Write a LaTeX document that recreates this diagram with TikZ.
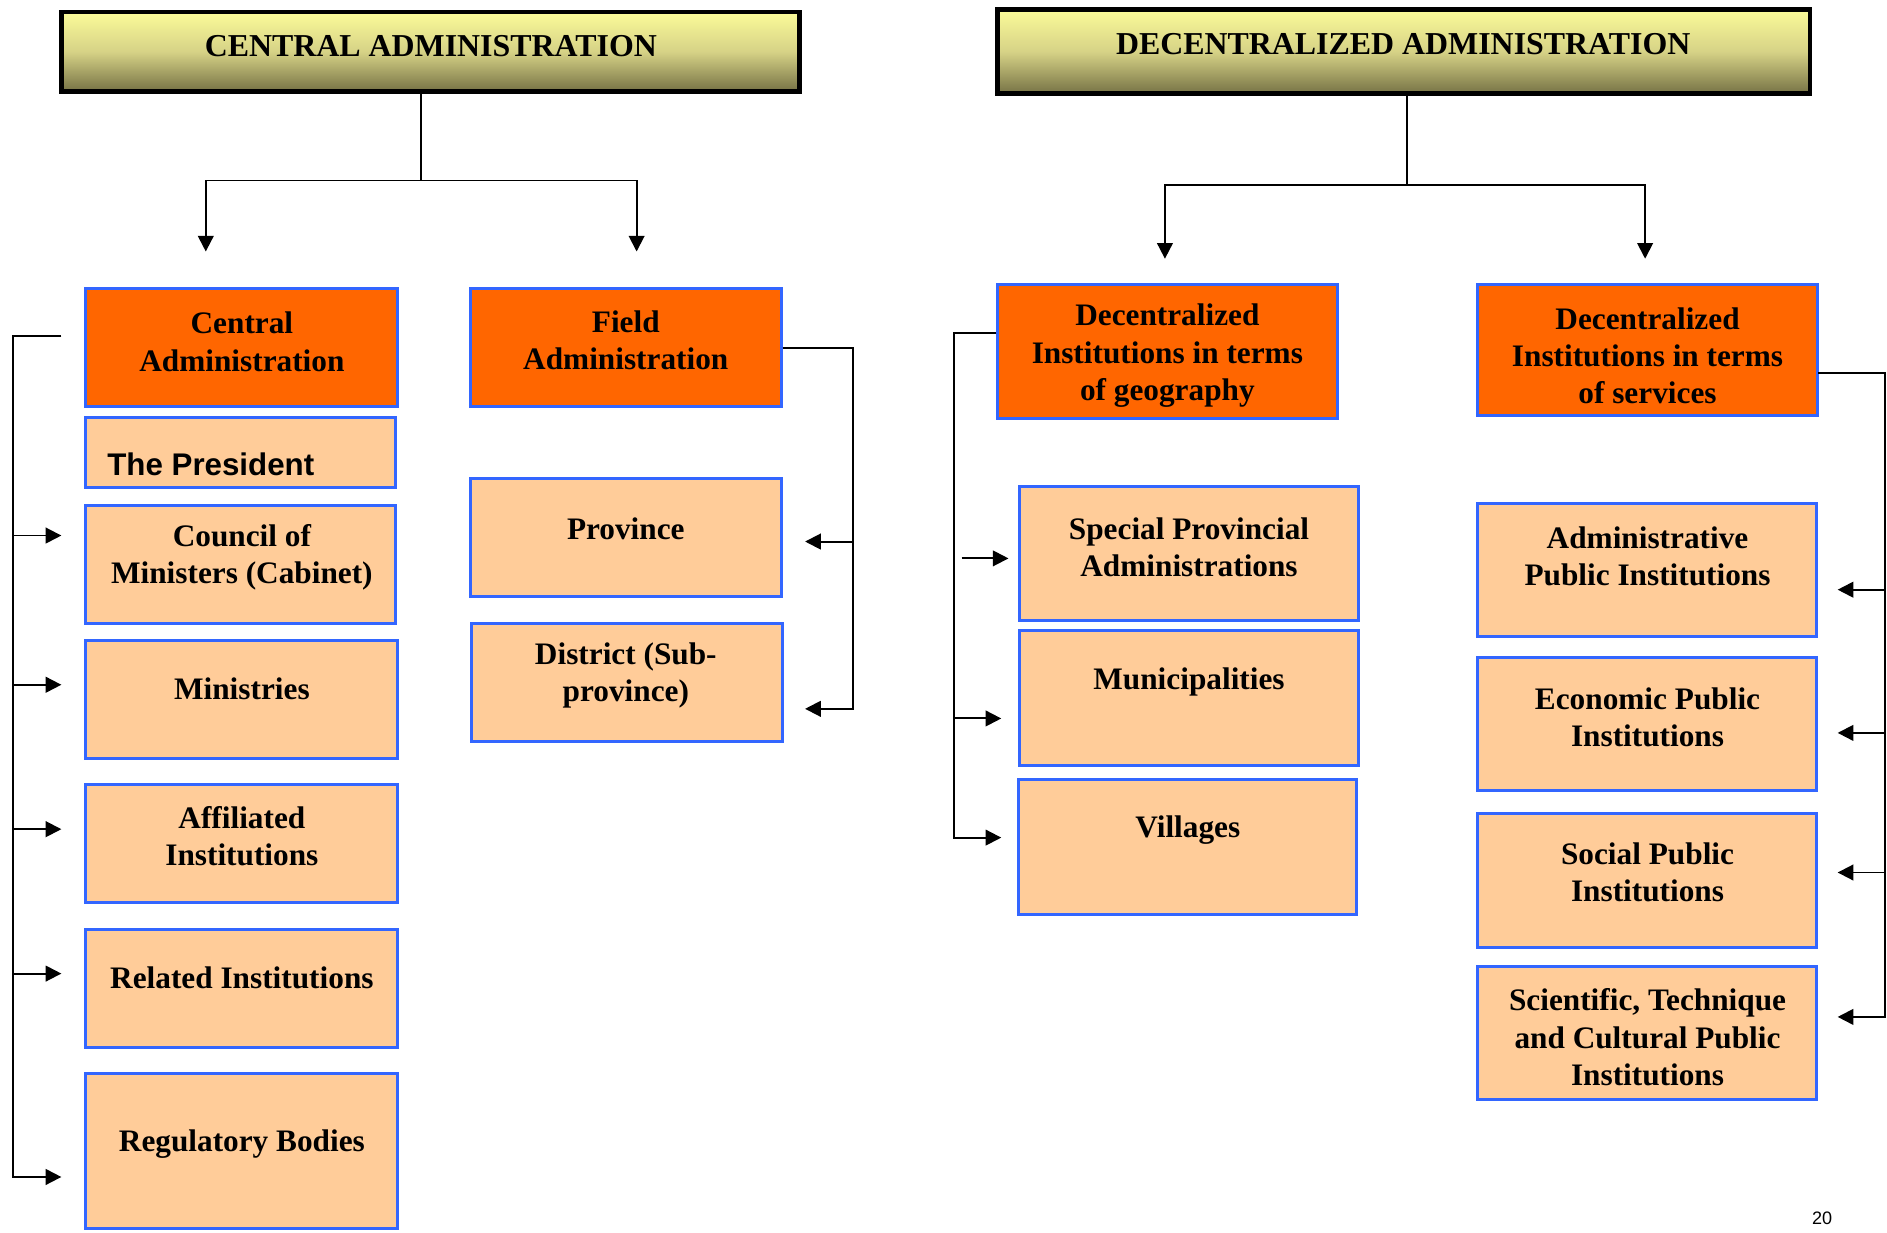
\documentclass[tikz,border=0pt]{standalone}
\usepackage{fontspec}
\setmainfont{Liberation Serif}
\newfontfamily\arialfont{Liberation Sans}
\usetikzlibrary{arrows.meta,fit}
\definecolor{orng}{HTML}{FF6600}
\definecolor{peach}{HTML}{FFCC99}
\definecolor{bordblue}{HTML}{3366FF}
\definecolor{hdtop}{HTML}{FBFB99}
\definecolor{hdmid}{HTML}{D6D286}
\definecolor{hdbot}{HTML}{767245}
\tikzset{
 hdr/.style={draw=black, line width=4pt, top color=hdtop, bottom color=hdbot, middle color=hdmid, inner sep=0pt},
 catbox/.style={draw=bordblue, line width=2.5pt, fill=orng, inner sep=0pt},
 subbox/.style={draw=bordblue, line width=2.5pt, fill=peach, inner sep=0pt},
 txt/.style={font=\fontsize{26}{31}\selectfont\bfseries, align=center, inner sep=0pt, yshift=-2.5pt},
 hdtxt/.style={font=\fontsize{26.5}{30}\selectfont\bfseries, inner sep=0pt, yshift=-1.5pt},
 conn/.style={line width=1.6pt, draw=black},
 arr/.style={conn, -{Triangle[length=13pt,width=13pt]}},
}
\newcommand\mybox[6]{\node[#2, fit={(#3,#4) (#5,#6)}] (#1) {};}
\begin{document}
\begin{tikzpicture}[x=1pt,y=-1pt]
\path[use as bounding box, fill=white] (0,0) rectangle (1568,1024);

% headers
\mybox{ch}{hdr}{51}{10}{664}{76}
\node[hdtxt] (cht) at (358,37) {CENTRAL ADMINISTRATION};
\mybox{dh}{hdr}{829}{8}{1504}{78}
\node[hdtxt] (dht) at (1166,35) {DECENTRALIZED ADMINISTRATION};

% central column
\mybox{cadm}{catbox}{71}{240}{330}{338}
\node[txt] (cadmt) at (201,281.5) {Central\\Administration};
\mybox{pres}{subbox}{71}{347}{329}{405}
\node[txt, font=\fontsize{26}{31}\selectfont\arialfont\bfseries, anchor=west, yshift=1.5pt] (prest) at (89,385) {The President};
\mybox{coun}{subbox}{71}{420}{329}{518}
\node[txt] (count) at (201,460.5) {Council of\\Ministers (Cabinet)};
\mybox{mins}{subbox}{71}{532}{330}{630}
\node[txt] (minst) at (201,570) {Ministries};
\mybox{affi}{subbox}{71}{652}{330}{750}
\node[txt] (affit) at (201,692.5) {Affiliated\\Institutions};
\mybox{rela}{subbox}{71}{772}{330}{870}
\node[txt] (relat) at (201,810) {Related Institutions};
\mybox{regu}{subbox}{71}{892}{330}{1021}
\node[txt] (regut) at (201,948) {Regulatory Bodies};

% field column
\mybox{fadm}{catbox}{391}{240}{649}{338}
\node[txt] (fadmt) at (520,280.5) {Field\\Administration};
\mybox{prov}{subbox}{391}{398}{649}{496}
\node[txt] (provt) at (520,437) {Province};
\mybox{dist}{subbox}{392}{518}{650}{616}
\node[txt] (distt) at (520,558.5) {District (Sub-\\province)};

% geography column
\mybox{geo}{catbox}{829}{236}{1111}{348}
\node[txt] (geot) at (970,293) {Decentralized\\Institutions in terms\\of geography};
\mybox{spa}{subbox}{847}{404}{1129}{516}
\node[txt] (spat) at (988,452.5) {Special Provincial\\Administrations};
\mybox{muni}{subbox}{847}{524}{1129}{636}
\node[txt] (munit) at (988,564) {Municipalities};
\mybox{vill}{subbox}{846}{648}{1127}{760}
\node[txt] (villt) at (987,687) {Villages};

% services column
\mybox{serv}{catbox}{1228}{236}{1510}{345}
\node[txt] (servt) at (1369,293) {Decentralized\\Institutions in terms\\of services};
\mybox{api}{subbox}{1228}{418}{1509}{529}
\node[txt] (apit) at (1369,459.5) {Administrative\\Public Institutions};
\mybox{epi}{subbox}{1228}{546}{1509}{657}
\node[txt] (epit) at (1369,593.5) {Economic Public\\Institutions};
\mybox{spi}{subbox}{1228}{676}{1509}{787}
\node[txt] (spit) at (1369,722.5) {Social Public\\Institutions};
\mybox{stc}{subbox}{1228}{803}{1509}{914}
\node[txt] (stct) at (1369,859.5) {Scientific, Technique\\and Cultural Public\\Institutions};

\node[font=\arialfont\fontsize{15}{18}\selectfont, inner sep=0pt] (pg) at (1514,1012) {20};

% header connectors
\coordinate (cj) at (350,150);
\coordinate (ca1) at (171,209);
\coordinate (ca2) at (529,209);
\draw[conn] ([xshift=-7.5pt]ch.south) -- (cj);
\draw[arr] (cj) -| (ca1);
\draw[arr] (cj) -| (ca2);

\coordinate (dj) at (1169,154);
\coordinate (da1) at (968,215);
\coordinate (da2) at (1367,215);
\draw[conn] ([xshift=2.5pt]dh.south) -- (dj);
\draw[arr] (dj) -| (da1);
\draw[arr] (dj) -| (da2);

% left bracket
\coordinate (L0) at (51,279);
\coordinate (Lx) at (11,0);
\coordinate (l1) at (51,445);
\coordinate (l2) at (51,569);
\coordinate (l3) at (51,689);
\coordinate (l4) at (51,809);
\coordinate (l5) at (51,978);
\draw[arr] (L0) -| (Lx |- l5) -- (l5);
\draw[arr] (Lx |- l1) -- (l1);
\draw[arr] (Lx |- l2) -- (l2);
\draw[arr] (Lx |- l3) -- (l3);
\draw[arr] (Lx |- l4) -- (l4);

% field bracket
\coordinate (Rx) at (709,0);
\coordinate (r1) at (669,450);
\coordinate (r2) at (669,589);
\draw[arr] (fadm.east) -| (Rx |- r2) -- (r2);
\draw[arr] (Rx |- r1) -- (r1);

% geography bracket
\coordinate (Gx) at (793,0);
\coordinate (g0) at (828,277);
\coordinate (g1s) at (799,464);
\coordinate (g1) at (838,464);
\coordinate (g2) at (832,597);
\coordinate (g3) at (832,696);
\draw[arr] (g0) -| (Gx |- g3) -- (g3);
\draw[arr] (Gx |- g2) -- (g2);
\draw[arr] (g1s) -- (g1);

% services bracket
\coordinate (Sx) at (1566,0);
\coordinate (s0) at (1511,310);
\coordinate (s1) at (1527,490);
\coordinate (s2) at (1527,609);
\coordinate (s3) at (1527,725);
\coordinate (s4) at (1527,845);
\draw[arr] (s0) -| (Sx |- s4) -- (s4);
\draw[arr] (Sx |- s1) -- (s1);
\draw[arr] (Sx |- s2) -- (s2);
\draw[arr] (Sx |- s3) -- (s3);
\end{tikzpicture}
\end{document}
